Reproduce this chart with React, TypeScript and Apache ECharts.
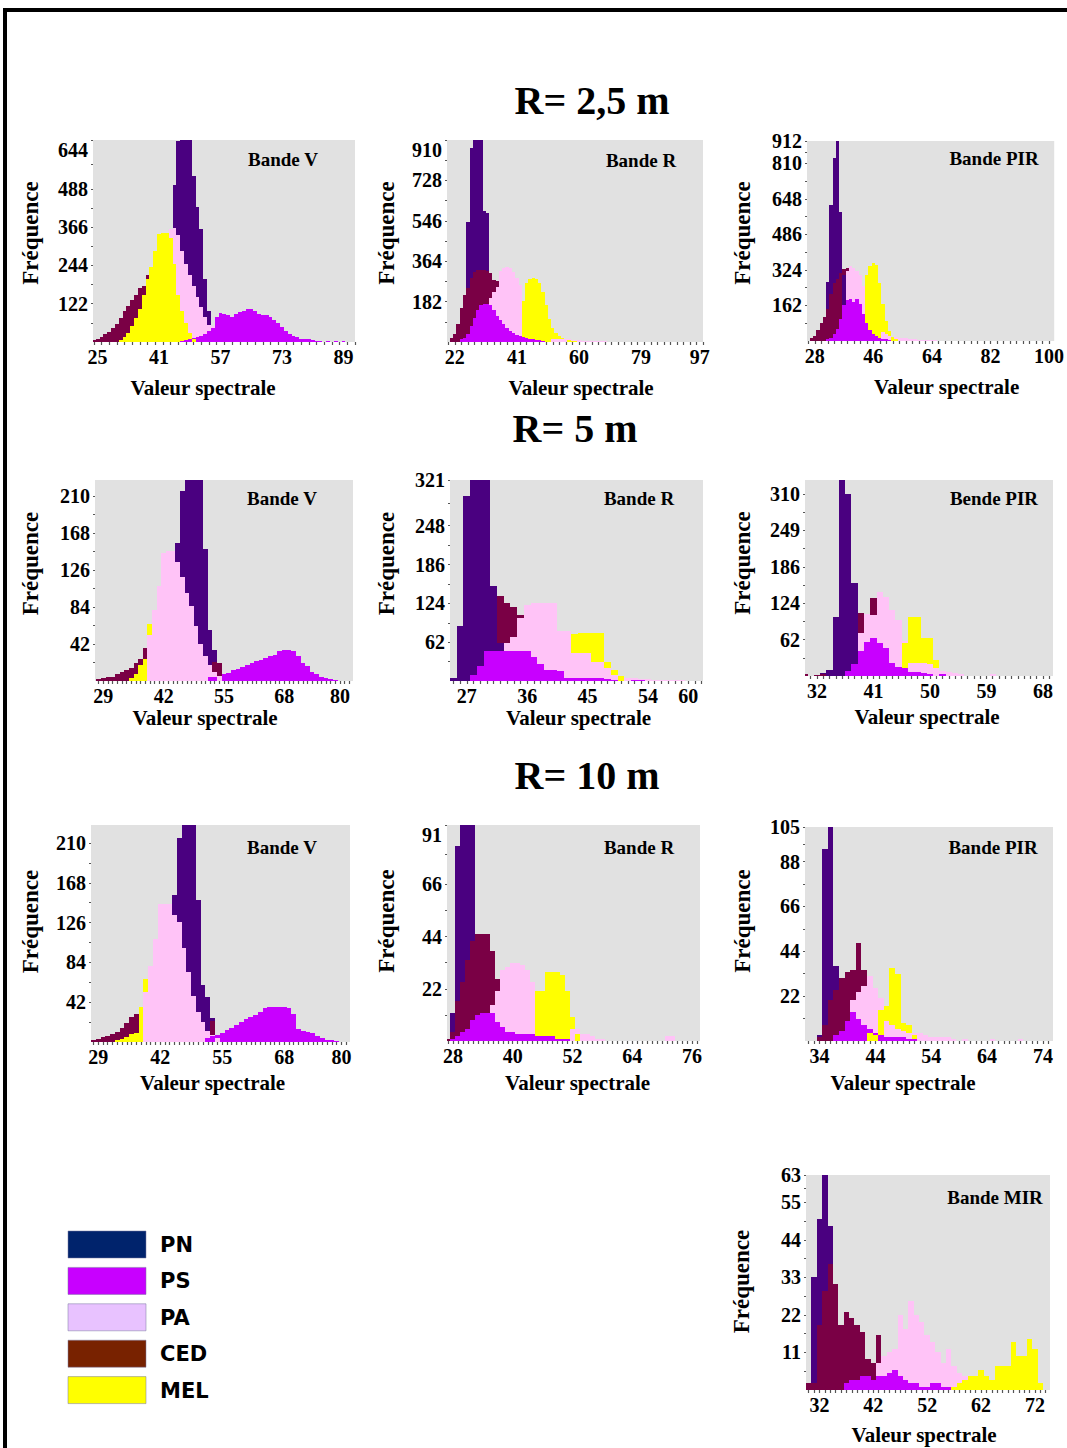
import React, { useEffect, useRef } from "react";
import * as echarts from "echarts";

type Hist = { from: number; counts: number[] };
const CLASSES = ["PN", "PS", "PA", "CED", "MEL"];
const SERIF = '"Liberation Serif", "Times New Roman", serif';
const SANS = '"DejaVu Sans", "Liberation Sans", sans-serif';

const BAR_COLORS: Record<string, string> = {
  PN: "#4a0080",
  PS: "#c800ff",
  PA: "#ffc3f7",
  CED: "#7a0045",
  MEL: "#ffff00",
};
const LEGEND_COLORS = ["#00236c", "#c800ff", "#e8c2ff", "#782200", "#ffff00"];

// ---------- R = 2,5 m ----------
const R25_V_XTICKS = [25, 41, 57, 73, 89];
const R25_V_YTICKS = [122, 244, 366, 488, 644];
const R25_V_PN: Hist = { from: 45, counts: [500, 640, 644, 644, 644, 530, 430, 360, 200, 100] };
const R25_V_PS: Hist = { from: 47, counts: [3, 5, 8, 12, 15, 20, 25, 35, 45, 80, 92, 90, 85, 80, 90, 95, 100, 104, 104, 100, 90, 85, 85, 80, 70, 60, 48, 35, 25, 18, 15, 10, 10, 8, 5, 3, 2, 0, 2, 0, 2, 0, 2] };
const R25_V_PA: Hist = { from: 44, counts: [360, 362, 340, 290, 250, 215, 180, 145, 110, 80, 55, 50] };
const R25_V_CED: Hist = { from: 24, counts: [6, 10, 16, 24, 32, 45, 58, 75, 100, 115, 135, 150, 172, 180, 215] };
const R25_V_MEL: Hist = { from: 31, counts: [5, 15, 30, 50, 75, 105, 150, 200, 240, 290, 345, 348, 348, 330, 250, 150, 100, 60, 30, 10] };

const R25_R_XTICKS = [22, 41, 60, 79, 97];
const R25_R_YTICKS = [182, 364, 546, 728, 910];
const R25_R_PN: Hist = { from: 26, counts: [541, 875, 910, 910, 910, 590, 580] };
const R25_R_PS: Hist = { from: 24, counts: [12, 20, 35, 70, 110, 145, 168, 172, 170, 165, 145, 118, 100, 80, 64, 50, 40, 32, 26, 22, 18, 15, 12, 10, 8, 6] };
const R25_R_PA: Hist = { from: 33, counts: [200, 225, 250, 320, 335, 338, 335, 315, 290, 255, 0, 0, 0, 0, 0, 0, 0, 0, 0, 12, 15, 14, 13, 12, 12, 10, 8, 7, 6, 6, 5, 5, 4, 4, 3, 3, 2, 2] };
const R25_R_CED: Hist = { from: 21, counts: [18, 35, 80, 155, 210, 245, 290, 315, 325, 325, 325, 320, 310, 280, 275] };
const R25_R_MEL: Hist = { from: 43, counts: [185, 265, 285, 288, 285, 265, 225, 165, 105, 65, 40, 28, 20, 14, 10, 6, 4] };

const R25_PIR_XTICKS = [28, 46, 64, 82, 100];
const R25_PIR_YTICKS = [162, 324, 486, 648, 810, 912];
const R25_PIR_PN: Hist = { from: 32, counts: [270, 620, 835, 912, 590, 300] };
const R25_PIR_PS: Hist = { from: 32, counts: [8, 15, 30, 55, 100, 165, 185, 190, 180, 192, 170, 125, 80, 50, 30, 22, 15, 10, 8, 5] };
const R25_PIR_PA: Hist = { from: 38, counts: [320, 340, 335, 320, 300, 250, 0, 0, 0, 0, 0, 40, 30, 25, 20, 18, 15, 14, 12, 10, 9, 8, 6, 5, 5, 4, 3, 3, 2] };
const R25_PIR_CED: Hist = { from: 27, counts: [15, 25, 50, 80, 110, 145, 215, 265, 285, 310, 330, 335] };
const R25_PIR_MEL: Hist = { from: 44, counts: [300, 340, 355, 345, 265, 170, 90, 45, 20, 10] };

// ---------- R = 5 m ----------
const R5_V_XTICKS = [29, 42, 55, 68, 80];
const R5_V_YTICKS = [42, 84, 126, 168, 210];
const R5_V_PN: Hist = { from: 45, counts: [156, 215, 235, 235, 235, 235, 150, 58, 35] };
const R5_V_PS: Hist = { from: 52, counts: [4, 5, 6, 8, 9, 12, 14, 16, 18, 20, 23, 24, 26, 28, 30, 34, 35, 35, 34, 28, 20, 17, 10, 8, 5, 3, 2, 1] };
const R5_V_PA: Hist = { from: 39, counts: [52, 80, 108, 145, 147, 147, 135, 118, 100, 85, 62, 42, 28, 18, 10, 6] };
const R5_V_CED: Hist = { from: 28, counts: [2, 3, 4, 5, 8, 10, 12, 15, 20, 25, 38, 0, 0, 0, 0, 0, 0, 0, 0, 0, 0, 0, 0, 0, 0, 22, 20] };
const R5_V_MEL: Hist = { from: 35, counts: [3, 8, 18, 25, 65] };

const R5_R_XTICKS = [27, 36, 45, 54, 60];
const R5_R_YTICKS = [62, 124, 186, 248, 321];
const R5_R_PN: Hist = { from: 25, counts: [5, 88, 295, 321, 321, 321, 152, 60] };
const R5_R_PS: Hist = { from: 28, counts: [10, 24, 48, 48, 48, 48, 48, 48, 48, 38, 27, 18, 17, 16, 5, 5, 5, 5, 4, 4, 3, 2, 0, 0, 2, 2, 3] };
const R5_R_PA: Hist = { from: 33, counts: [60, 70, 100, 122, 125, 125, 125, 125, 80, 80, 45, 45, 45, 30, 30, 20, 10, 8, 5, 4, 3, 3, 2, 2, 2, 2, 2] };
const R5_R_CED: Hist = { from: 32, counts: [135, 125, 118, 105] };
const R5_R_MEL: Hist = { from: 43, counts: [75, 77, 77, 77, 76, 30, 18, 8] };

const R5_PIR_XTICKS = [32, 41, 50, 59, 68];
const R5_PIR_YTICKS = [62, 124, 186, 249, 310];
const R5_PIR_PN: Hist = { from: 33, counts: [5, 10, 100, 334, 310, 158] };
const R5_PIR_PS: Hist = { from: 37, counts: [8, 20, 42, 58, 64, 56, 47, 22, 16, 14, 7, 6, 5, 4, 0, 4] };
const R5_PIR_PA: Hist = { from: 39, counts: [73, 105, 104, 143, 135, 112, 95, 60, 22, 22, 22, 20, 13, 8, 6, 5, 4, 0, 0, 0, 0, 3] };
const R5_PIR_CED: Hist = { from: 30, counts: [3, 0, 2, 4, 0, 0, 0, 0, 0, 108, 0, 133] };
const R5_PIR_MEL: Hist = { from: 46, counts: [56, 100, 100, 65, 64, 27] };

// ---------- R = 10 m ----------
const R10_V_XTICKS = [29, 42, 55, 68, 80];
const R10_V_YTICKS = [42, 84, 126, 168, 210];
const R10_V_PN: Hist = { from: 45, counts: [155, 215, 229, 229, 229, 150, 60, 48, 25] };
const R10_V_PS: Hist = { from: 52, counts: [4, 6, 7, 10, 13, 15, 18, 21, 24, 26, 28, 32, 36, 37, 37, 37, 37, 36, 30, 14, 12, 11, 10, 6, 4, 2, 2, 1] };
const R10_V_PA: Hist = { from: 39, counts: [53, 80, 109, 146, 146, 146, 134, 127, 99, 74, 49, 32, 21, 12, 7, 4] };
const R10_V_CED: Hist = { from: 28, counts: [2, 3, 5, 6, 8, 11, 15, 20, 26, 30, 0, 0, 0, 0, 0, 0, 0, 0, 0, 0, 0, 0, 0, 0, 0, 22] };
const R10_V_MEL: Hist = { from: 33, counts: [2, 3, 5, 8, 10, 37, 67] };

const R10_R_XTICKS = [28, 40, 52, 64, 76];
const R10_R_YTICKS = [22, 44, 66, 91];
const R10_R_PN: Hist = { from: 28, counts: [12, 82, 91, 91, 91] };
const R10_R_PS: Hist = { from: 28, counts: [1, 2, 4, 5, 9, 11, 12, 12, 12, 8, 6, 4, 4, 3, 3, 3, 3, 2, 2, 2, 2, 1, 1, 1] };
const R10_R_PA: Hist = { from: 36, counts: [15, 21, 30, 31, 33, 33, 32, 30, 25, 0, 0, 0, 0, 0, 0, 0, 5, 5, 3, 3, 2, 1, 1, 0, 0, 0, 0, 0, 0, 0, 0, 0, 0, 0, 0, 2, 2] };
const R10_R_CED: Hist = { from: 27, counts: [1, 4, 17, 25, 34, 42, 45, 45, 45, 38, 26] };
const R10_R_MEL: Hist = { from: 45, counts: [21, 21, 29, 29, 29, 28, 21, 10, 3] };

const R10_PIR_XTICKS = [34, 44, 54, 64, 74];
const R10_PIR_YTICKS = [22, 44, 66, 88, 105];
const R10_PIR_PN: Hist = { from: 34, counts: [3, 94, 105, 37] };
const R10_PIR_PS: Hist = { from: 37, counts: [3, 5, 10, 14, 11, 8, 6, 4, 3, 2, 2, 2, 2, 1, 1] };
const R10_PIR_PA: Hist = { from: 40, counts: [20, 24, 27, 32, 26, 21, 10, 8, 6, 5, 4, 4, 4, 3, 2, 2, 2, 2, 1, 0, 1, 0, 0, 0, 0, 1, 0, 0, 0, 0, 1] };
const R10_PIR_CED: Hist = { from: 34, counts: [2, 8, 20, 25, 31, 34, 35, 48, 35] };
const R10_PIR_MEL: Hist = { from: 43, counts: [4, 3, 15, 17, 36, 33, 9, 8, 3] };

const R10_MIR_XTICKS = [32, 42, 52, 62, 72];
const R10_MIR_YTICKS = [11, 22, 33, 44, 55, 63];
const R10_MIR_PN: Hist = { from: 31, counts: [33, 50, 63, 48] };
const R10_MIR_PS: Hist = { from: 37, counts: [2, 3, 3, 4, 4, 3, 4, 4, 5, 6, 4, 3, 2, 2, 1, 1, 2, 2, 1, 1, 1] };
const R10_MIR_PA: Hist = { from: 43, counts: [8, 10, 11, 12, 22, 18, 26, 22, 20, 16, 14, 11, 8, 12, 7, 5, 4] };
const R10_MIR_CED: Hist = { from: 30, counts: [2, 2, 19, 29, 37, 31, 19, 23, 21, 19, 17, 9, 8, 16] };
const R10_MIR_MEL: Hist = { from: 57, counts: [1, 2, 3, 4, 4, 6, 4, 3, 7, 7, 7, 14, 10, 10, 15, 12, 2] };

const TITLES = ["R= 2,5 m", "R= 5 m", "R= 10 m"];
const LEGEND_LABELS = ["PN", "PS", "PA", "CED", "MEL"];

type Panel = {
  band: string;
  hist: Record<string, Hist>;
  xTicks: number[];
  yTicks: number[];
  xMin: number;
  xMax: number;
  yMax: number;
  box: [number, number, number, number];
  bandAt: [number, number];
  xNameShift: number;
  xNameGap: number;
  yNameShift: number;
  yNameGap: number;
  topLabelTop: boolean;
};

const PANELS: Panel[] = [
  { band: "Bande V", hist: { PN: R25_V_PN, PS: R25_V_PS, PA: R25_V_PA, CED: R25_V_CED, MEL: R25_V_MEL }, xTicks: R25_V_XTICKS, yTicks: R25_V_YTICKS, xMin: 23.8, xMax: 92, yMax: 644, box: [93, 140, 262, 202], bandAt: [283, 159], xNameShift: -21, xNameGap: 35, yNameShift: -8, yNameGap: 51, topLabelTop: true },
  { band: "Bande R", hist: { PN: R25_R_PN, PS: R25_R_PS, PA: R25_R_PA, CED: R25_R_CED, MEL: R25_R_MEL }, xTicks: R25_R_XTICKS, yTicks: R25_R_YTICKS, xMin: 19.6, xMax: 98, yMax: 910, box: [447, 140, 256, 202], bandAt: [641, 160], xNameShift: 6, xNameGap: 35, yNameShift: -8, yNameGap: 49, topLabelTop: true },
  { band: "Bande PIR", hist: { PN: R25_PIR_PN, PS: R25_PIR_PS, PA: R25_PIR_PA, CED: R25_PIR_CED, MEL: R25_PIR_MEL }, xTicks: R25_PIR_XTICKS, yTicks: R25_PIR_YTICKS, xMin: 25.6, xMax: 101.6, yMax: 912, box: [807, 141, 251, 200], bandAt: [994, 158], xNameShift: 16, xNameGap: 35, yNameShift: -8, yNameGap: 53, topLabelTop: false },
  { band: "Bande V", hist: { PN: R5_V_PN, PS: R5_V_PS, PA: R5_V_PA, CED: R5_V_CED, MEL: R5_V_MEL }, xTicks: R5_V_XTICKS, yTicks: R5_V_YTICKS, xMin: 27.2, xMax: 82.8, yMax: 228, box: [95, 480, 258, 201], bandAt: [282, 498], xNameShift: -19, xNameGap: 26, yNameShift: -17, yNameGap: 53, topLabelTop: false },
  { band: "Bande R", hist: { PN: R5_R_PN, PS: R5_R_PS, PA: R5_R_PA, CED: R5_R_CED, MEL: R5_R_MEL }, xTicks: R5_R_XTICKS, yTicks: R5_R_YTICKS, xMin: 24.5, xMax: 62.2, yMax: 321, box: [450, 480, 253, 201], bandAt: [639, 498], xNameShift: 2, xNameGap: 26, yNameShift: -17, yNameGap: 52, topLabelTop: false },
  { band: "Bende PIR", hist: { PN: R5_PIR_PN, PS: R5_PIR_PS, PA: R5_PIR_PA, CED: R5_PIR_CED, MEL: R5_PIR_MEL }, xTicks: R5_PIR_XTICKS, yTicks: R5_PIR_YTICKS, xMin: 30.1, xMax: 69.6, yMax: 334, box: [805, 480, 248, 196], bandAt: [994, 498], xNameShift: -2, xNameGap: 30, yNameShift: -15, yNameGap: 51, topLabelTop: false },
  { band: "Bande V", hist: { PN: R10_V_PN, PS: R10_V_PS, PA: R10_V_PA, CED: R10_V_CED, MEL: R10_V_MEL }, xTicks: R10_V_XTICKS, yTicks: R10_V_YTICKS, xMin: 27.5, xMax: 81.8, yMax: 229, box: [91, 825, 259, 217], bandAt: [282, 847], xNameShift: -8, xNameGap: 30, yNameShift: -12, yNameGap: 49, topLabelTop: false },
  { band: "Bande R", hist: { PN: R10_R_PN, PS: R10_R_PS, PA: R10_R_PA, CED: R10_R_CED, MEL: R10_R_MEL }, xTicks: R10_R_XTICKS, yTicks: R10_R_YTICKS, xMin: 26.8, xMax: 77.6, yMax: 91, box: [447, 825, 253, 216], bandAt: [639, 847], xNameShift: 4, xNameGap: 31, yNameShift: -12, yNameGap: 49, topLabelTop: true },
  { band: "Bande PIR", hist: { PN: R10_PIR_PN, PS: R10_PIR_PS, PA: R10_PIR_PA, CED: R10_PIR_CED, MEL: R10_PIR_MEL }, xTicks: R10_PIR_XTICKS, yTicks: R10_PIR_YTICKS, xMin: 31.4, xMax: 75.8, yMax: 105, box: [805, 827, 248, 214], bandAt: [993, 847], xNameShift: -26, xNameGap: 31, yNameShift: -13, yNameGap: 51, topLabelTop: false },
  { band: "Bande MIR", hist: { PN: R10_MIR_PN, PS: R10_MIR_PS, PA: R10_MIR_PA, CED: R10_MIR_CED, MEL: R10_MIR_MEL }, xTicks: R10_MIR_XTICKS, yTicks: R10_MIR_YTICKS, xMin: 29.5, xMax: 74.8, yMax: 63, box: [806, 1175, 244, 215], bandAt: [995, 1197], xNameShift: -4, xNameGap: 34, yNameShift: -1, yNameGap: 53, topLabelTop: false },
];

function sidePad(shift: number): number[] {
  return shift >= 0 ? [0, 0, 0, 2 * shift] : [0, -2 * shift, 0, 0];
}

function buildOption() {
  const grid: any[] = [];
  const xAxis: any[] = [];
  const yAxis: any[] = [];
  const series: any[] = [];
  const graphic: any[] = [];

  PANELS.forEach((p, i) => {
    const [left, top, width, height] = p.box;
    grid.push({ left, top, width, height, show: true, backgroundColor: "#e1e1e1", borderWidth: 0, containLabel: false });

    const step = p.xMax - p.xMin > 60 ? 2 : 1;
    const xDots: number[] = [];
    for (let v = Math.ceil(p.xMin); v <= p.xMax; v += step) xDots.push(v);
    const yDots: number[] = [];
    p.yTicks.forEach((t, k) => {
      const prev = k === 0 ? 0 : p.yTicks[k - 1];
      yDots.push((prev + t) / 2, t);
    });

    xAxis.push({
      type: "value",
      gridIndex: i,
      min: p.xMin,
      max: p.xMax,
      axisLine: { show: false },
      splitLine: { show: false },
      axisTick: { show: true, customValues: xDots, length: 3, lineStyle: { color: "#555", width: 1.2 } },
      axisLabel: { customValues: p.xTicks, fontFamily: SERIF, fontWeight: "bold", fontSize: 20, color: "#000", margin: 5 },
      name: "Valeur spectrale",
      nameLocation: "middle",
      nameGap: p.xNameGap,
      nameTextStyle: { fontFamily: SERIF, fontWeight: "bold", fontSize: 21, color: "#000", padding: sidePad(p.xNameShift) },
    });
    yAxis.push({
      type: "value",
      gridIndex: i,
      min: 0,
      max: p.yMax,
      axisLine: { show: false },
      splitLine: { show: false },
      axisTick: { show: true, customValues: yDots, length: 2, lineStyle: { color: "#555", width: 1.2 } },
      axisLabel: {
        customValues: p.yTicks,
        fontFamily: SERIF,
        fontWeight: "bold",
        fontSize: 20,
        color: "#000",
        margin: 5,
        verticalAlignMaxLabel: p.topLabelTop ? "top" : "middle",
      },
      name: "Fréquence",
      nameLocation: "middle",
      nameGap: p.yNameGap,
      nameTextStyle: { fontFamily: SERIF, fontWeight: "bold", fontSize: 23, color: "#000", padding: sidePad(-p.yNameShift) },
    });

    CLASSES.forEach((cls) => {
      const h = p.hist[cls];
      const color = BAR_COLORS[cls];
      const data = h.counts.map((c, k) => [h.from + k, c]).filter((d) => d[1] > 0);
      series.push({
        type: "custom",
        name: cls,
        xAxisIndex: i,
        yAxisIndex: i,
        clip: true,
        encode: { x: 0, y: 1 },
        data,
        renderItem: (_params: any, api: any) => {
          const x = api.value(0) as number;
          const y = api.value(1) as number;
          const a = api.coord([x - 0.5, 0]);
          const b = api.coord([x + 0.5, y]);
          const x0 = Math.round(a[0]);
          const x1 = Math.round(b[0]);
          const y0 = Math.round(a[1]);
          const y1 = Math.round(b[1]);
          return {
            type: "rect",
            shape: { x: x0, y: y1, width: x1 - x0, height: y0 - y1 },
            style: { fill: color },
            z2: 1000000 - Math.round(y * 100),
          };
        },
      });
    });

    graphic.push({
      type: "text",
      x: p.bandAt[0],
      y: p.bandAt[1],
      z: 100,
      style: { text: p.band, fontFamily: SERIF, fontWeight: "bold", fontSize: 19, fill: "#000", align: "center", verticalAlign: "middle", textAlign: "center", textVerticalAlign: "middle" },
    });
  });

  const titlePos = [
    [592, 100],
    [575, 428],
    [587, 775],
  ];
  TITLES.forEach((t, k) => {
    graphic.push({
      type: "text",
      x: titlePos[k][0],
      y: titlePos[k][1],
      style: { text: t, fontFamily: SERIF, fontWeight: "bold", fontSize: 40, fill: "#000", align: "center", verticalAlign: "middle", textAlign: "center", textVerticalAlign: "middle" },
    });
  });

  LEGEND_LABELS.forEach((lab, k) => {
    const y = 1231 + k * 36.4;
    graphic.push({
      type: "rect",
      shape: { x: 68, y, width: 78, height: 27 },
      style: { fill: LEGEND_COLORS[k], stroke: "rgba(120,120,160,0.5)", lineWidth: 1 },
    });
    graphic.push({
      type: "text",
      x: 160,
      y: y + 14,
      style: { text: lab, fontFamily: SANS, fontWeight: "bold", fontSize: 21, fill: "#000", align: "left", verticalAlign: "middle", textAlign: "left", textVerticalAlign: "middle" },
    });
  });

  graphic.push({
    type: "rect",
    shape: { x: 5, y: 10, width: 1100, height: 1500 },
    style: { fill: "none", stroke: "#000", lineWidth: 4 },
    silent: true,
  });

  return {
    animation: false,
    backgroundColor: "#ffffff",
    grid,
    xAxis,
    yAxis,
    series,
    graphic,
  };
}

export default function App() {
  const ref = useRef<HTMLDivElement>(null);
  useEffect(() => {
    if (!ref.current) return;
    const chart = echarts.init(ref.current, null, { renderer: "svg" });
    chart.setOption(buildOption() as any);
    return () => {
      chart.dispose();
    };
  }, []);
  return (
    <div
      ref={ref}
      style={{ position: "absolute", left: 0, top: 0, width: 1067, height: 1448, background: "#fff" }}
    />
  );
}
